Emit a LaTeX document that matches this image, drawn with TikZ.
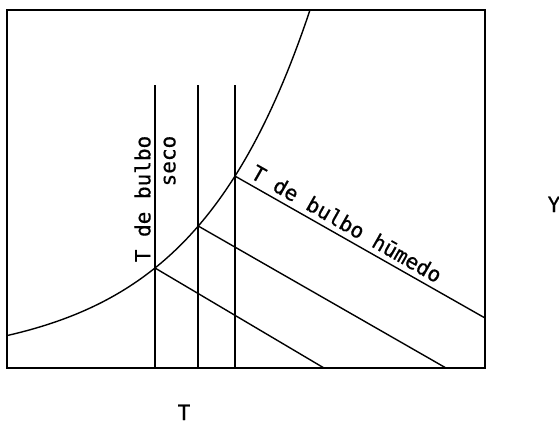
\documentclass[tikz,border=0pt]{standalone}
\usepackage{fontspec}
\newfontfamily\lblfont[FakeBold=0.6]{DejaVu Sans Mono}
\usetikzlibrary{positioning}

\begin{document}
\begin{tikzpicture}[
    x=1pt, y=-1pt,
    frame/.style={line width=1.6pt},
    curve/.style={line width=1.4pt},
    iso/.style={line width=1.4pt},
    lbl/.style={font=\lblfont\fontsize{21}{25}\selectfont, inner sep=0pt}
]
    \useasboundingbox (0,0) rectangle (559,420);

    % chart frame
    \draw[frame] (7,10) rectangle (485,368);

    % saturation curve
    \draw[curve] plot[domain=7:310, samples=80] (\x, {362.4-94.4*exp(0.0085*(\x-155))});

    % points on the curve
    \coordinate (p1) at (155,268);
    \coordinate (p2) at (198,225.9);
    \coordinate (p3) at (235,176.1);

    % dry bulb lines
    \coordinate (t1) at (155,85);
    \coordinate (t2) at (198,85);
    \coordinate (t3) at (235,85);
    \coordinate (b1) at (155,368);
    \coordinate (b2) at (198,368);
    \coordinate (b3) at (235,368);
    \draw[iso] (t1) -- (b1);
    \draw[iso] (t2) -- (b2);
    \draw[iso] (t3) -- (b3);

    % wet bulb lines
    \coordinate (e1) at (324,368);
    \coordinate (e2) at (446,368);
    \coordinate (e3) at (485,318);
    \draw[iso] (p1) -- (e1);
    \draw[iso] (p2) -- (e2);
    \draw[iso] (p3) -- node[lbl, pos=0.42, above=5pt, sloped] (humedo) {T de bulbo hūmedo} (e3);

    \node[lbl, rotate=90, align=right] (seco) at (155,199) {T de bulbo\\seco};

    % axis labels
    \node[lbl, anchor=base] (yax) at (554,212) {Y};
    \node[lbl, anchor=base] (tax) at (184,420) {T};
\end{tikzpicture}
\end{document}
